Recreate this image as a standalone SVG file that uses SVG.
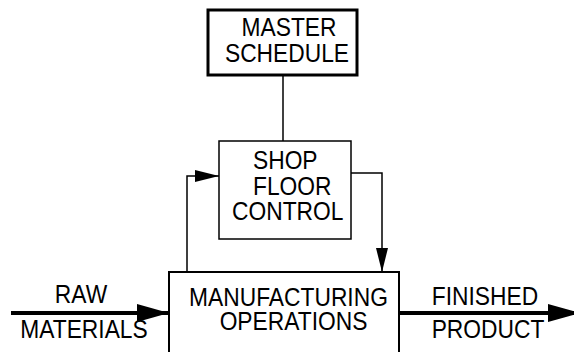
<svg xmlns="http://www.w3.org/2000/svg" width="574" height="352" viewBox="0 0 574 352">
<style>
text{font-family:"Liberation Sans",Arial,sans-serif;font-size:22.8px;fill:#000}
.c{text-anchor:middle}
.box{fill:#fff;stroke:#000}
.ln{fill:none;stroke:#000;stroke-width:1.5}
.th{fill:none;stroke:#000;stroke-width:4}
</style>
<defs>
<marker id="ah" viewBox="0 0 24 12" refX="24" refY="6" markerWidth="24" markerHeight="12" markerUnits="userSpaceOnUse" orient="auto"><path d="M0,0 L24,6 L0,12 Z" fill="#000"/></marker>
<marker id="ahb" viewBox="0 0 32 18" refX="32" refY="9" markerWidth="32" markerHeight="18" markerUnits="userSpaceOnUse" orient="auto"><path d="M0,0 L32,9 L0,18 Z" fill="#000"/></marker>
</defs>
<g id="connectors">
<path class="ln" d="M283,75 V141"/>
<path class="ln" d="M187,272 V176 H219" marker-end="url(#ah)"/>
<path class="ln" d="M351,173 H382 V272" marker-end="url(#ah)"/>
<path class="th" d="M11,313 H169" marker-end="url(#ahb)"/>
<path class="th" d="M399,313 H580" marker-end="url(#ahb)"/>
</g>
<g id="master-schedule">
<rect class="box" x="208" y="10" width="149" height="65" stroke-width="3"/>
<text class="c" x="289" y="36" transform="matrix(1,0,0,1.1,0,-3.6)">MASTER</text>
<text class="c" x="287" y="62" transform="matrix(1,0,0,1.1,0,-6.2)">SCHEDULE</text>
</g>
<g id="shop-floor-control">
<rect class="box" x="219" y="141" width="132" height="98" stroke-width="1.5"/>
<text x="253" y="169" transform="matrix(1,0,0,1.1,0,-16.9)">SHOP</text>
<text x="253" y="195.5" transform="matrix(1,0,0,1.1,0,-19.55)">FLOOR</text>
<text x="232" y="220" transform="matrix(1,0,0,1.1,0,-22)">CONTROL</text>
</g>
<g id="manufacturing-operations">
<rect class="box" x="169" y="272" width="230" height="100" stroke-width="2"/>
<text class="c" x="288.5" y="306" transform="matrix(1,0,0,1.1,0,-30.6)">MANUFACTURING</text>
<text class="c" x="293.5" y="330" transform="matrix(1,0,0,1.1,0,-33)">OPERATIONS</text>
</g>
<g id="labels">
<text class="c" x="81" y="303" transform="matrix(1,0,0,1.1,0,-30.3)">RAW</text>
<text class="c" x="84" y="338" transform="matrix(1,0,0,1.1,0,-33.8)">MATERIALS</text>
<text class="c" x="485" y="305" transform="matrix(1,0,0,1.1,0,-30.5)">FINISHED</text>
<text class="c" x="488" y="338" transform="matrix(1,0,0,1.1,0,-33.8)">PRODUCT</text>
</g>
</svg>
